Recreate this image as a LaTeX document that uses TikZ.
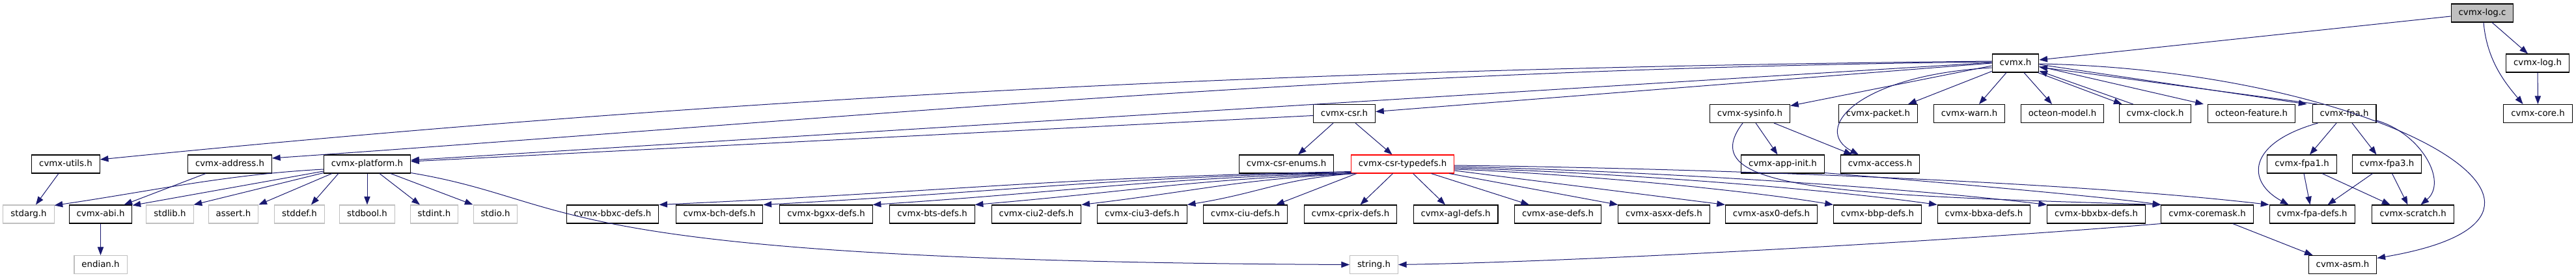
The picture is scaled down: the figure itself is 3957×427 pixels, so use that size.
\documentclass[tikz,border=0pt]{standalone}
\usepackage{fontspec}
\setmainfont{DejaVu Sans}
\usetikzlibrary{arrows.meta,calc}
\definecolor{edgeblue}{HTML}{191970}
\definecolor{sysgray}{HTML}{BFBFBF}
\begin{document}
\begin{tikzpicture}[x=0.75pt,y=-0.75pt,
  box/.style={draw=black, line width=0.8pt, inner xsep=8.6pt, inner ysep=0pt,
    minimum height=21pt, text height=7.4pt, text depth=2.1pt,
    font=\fontsize{10}{12}\selectfont, fill=white},
  sysbox/.style={box, draw=sysgray},
  rootbox/.style={box, fill=sysgray},
  truncbox/.style={box, draw=red},
  dep/.style={draw=edgeblue, line width=0.75pt, -{Triangle[length=9.5pt,width=7pt]}}
]
\useasboundingbox (0,0) rectangle (3957,427);
% row 0
\node[rootbox] (logc) at (3813,20) {cvmx-log.c};
% row 1
\node[box] (cvmx) at (3096,97) {cvmx.h};
\node[box] (logh) at (3898,97) {cvmx-log.h};
% row 2
\node[box] (csr) at (2065,174.5) {cvmx-csr.h};
\node[box] (sysinfo) at (2688,174.5) {cvmx-sysinfo.h};
\node[box] (packet) at (2885,174.5) {cvmx-packet.h};
\node[box] (warn) at (3025,174.5) {cvmx-warn.h};
\node[box] (model) at (3168,174.5) {octeon-model.h};
\node[box] (clock) at (3310.5,174.5) {cvmx-clock.h};
\node[box] (feature) at (3458.5,174.5) {octeon-feature.h};
\node[box] (fpa) at (3601,174.5) {cvmx-fpa.h};
\node[box] (core) at (3898.5,174.5) {cvmx-core.h};
% row 3
\node[box] (utils) at (101,252) {cvmx-utils.h};
\node[box] (address) at (353,252) {cvmx-address.h};
\node[box] (platform) at (564,252) {cvmx-platform.h};
\node[box] (enums) at (1976,252) {cvmx-csr-enums.h};
\node[truncbox] (typedefs) at (2154.5,252) {cvmx-csr-typedefs.h};
\node[box] (appinit) at (2738.5,252) {cvmx-app-init.h};
\node[box] (access) at (2888,252) {cvmx-access.h};
\node[box] (fpa1) at (3536,252) {cvmx-fpa1.h};
\node[box] (fpa3) at (3666.5,252) {cvmx-fpa3.h};
% row 4
\node[sysbox] (stdarg) at (44,329) {stdarg.h};
\node[box] (abi) at (154.5,329) {cvmx-abi.h};
\node[sysbox] (stdlib) at (261,329) {stdlib.h};
\node[sysbox] (assert) at (358.5,329) {assert.h};
\node[sysbox] (stddef) at (460,329) {stddef.h};
\node[sysbox] (stdbool) at (564,329) {stdbool.h};
\node[sysbox] (stdint) at (667,329) {stdint.h};
\node[sysbox] (stdio) at (761,329) {stdio.h};
\node[box] (bbxc) at (941,329) {cvmx-bbxc-defs.h};
\node[box] (bch) at (1105,329) {cvmx-bch-defs.h};
\node[box] (bgxx) at (1269,329) {cvmx-bgxx-defs.h};
\node[box] (bts) at (1432,329) {cvmx-bts-defs.h};
\node[box] (ciu2) at (1592,329) {cvmx-ciu2-defs.h};
\node[box] (ciu3) at (1754.5,329) {cvmx-ciu3-defs.h};
\node[box] (ciu) at (1913,329) {cvmx-ciu-defs.h};
\node[box] (cprix) at (2074.5,329) {cvmx-cprix-defs.h};
\node[box] (agl) at (2236,329) {cvmx-agl-defs.h};
\node[box] (ase) at (2393,329) {cvmx-ase-defs.h};
\node[box] (asxx) at (2556,329) {cvmx-asxx-defs.h};
\node[box] (asx0) at (2721,329) {cvmx-asx0-defs.h};
\node[box] (bbp) at (2884,329) {cvmx-bbp-defs.h};
\node[box] (bbxa) at (3047.5,329) {cvmx-bbxa-defs.h};
\node[box] (bbxbx) at (3220,329) {cvmx-bbxbx-defs.h};
\node[box] (coremask) at (3390.5,329) {cvmx-coremask.h};
\node[box] (fpadefs) at (3551.5,329) {cvmx-fpa-defs.h};
\node[box] (scratch) at (3706.5,329) {cvmx-scratch.h};
% row 5
\node[sysbox] (endian) at (154.5,406.5) {endian.h};
\node[sysbox] (string) at (2110.5,406.5) {string.h};
\node[box] (asm) at (3598.5,406.5) {cvmx-asm.h};

% cvmx-log.c
\draw[dep] ($(logc.west)+(0,5)$) -- ($(cvmx.east)+(0,-5)$);
\draw[dep] ($(logc.south)+(15,0)$) -- ($(logh.north)+(-15,0)$);
\draw[dep] ($(logc.south)+(2,0)$) .. controls +(5,60) and +(-25,-30) .. ($(core.north)+(-23,0)$);
\draw[dep] (logh) -- (core);

% cvmx.h
\draw[dep] ($(cvmx.west)+(0,-3)$) .. controls +(-1000,10) and +(1000,-100) .. ($(utils.east)+(0,-7)$);
\draw[dep] ($(cvmx.west)+(0,-2)$) .. controls +(-1000,12) and +(1000,-70) .. ($(address.east)+(0,-9)$);
\draw[dep] ($(cvmx.west)+(0,-1)$) -- ($(platform.east)+(0,-6)$);
\draw[dep] (cvmx.west) -- ($(csr.east)+(0,-3)$);
\draw[dep] ($(cvmx.west)+(0,4)$) -- ($(sysinfo.east)+(0,-12)$);
\draw[dep] ($(cvmx.west)+(0,7)$) .. controls +(-210,12) and +(-72,-38) .. ($(access.north)+(-33,0)$);
\draw[dep] ($(cvmx.south west)+(0,-2)$) -- ($(packet.north east)+(-15,0)$);
\draw[dep] ($(cvmx.south)+(-14,0)$) -- ($(warn.north)+(15,0)$);
\draw[dep] ($(cvmx.south)+(13,0)$) -- ($(model.north)+(-16,0)$);
\draw[dep] ($(cvmx.south east)+(-2,0)$) -- ($(clock.north west)+(5,0)$);
\draw[dep] ($(clock.north west)+(22,0)$) -- ($(cvmx.east)+(0,12)$);
\draw[dep] ($(cvmx.east)+(0,5)$) -- ($(feature.north west)+(-6,0)$);
\draw[dep] ($(cvmx.east)+(0,2)$) -- ($(fpa.north west)+(-8,0)$);
\draw[dep] ($(fpa.north west)+(8,0)$) -- ($(cvmx.east)+(0,6)$);
\draw[dep] ($(cvmx.east)+(0,1)$) .. controls +(519,10) and +(395,-67) .. ($(asm.east)+(0,-10)$);

% cvmx-csr.h
\draw[dep] ($(csr.west)+(0,3)$) -- ($(platform.east)+(0,-4)$);
\draw[dep] ($(csr.south)+(-17,0)$) -- ($(enums.north)+(18,0)$);
\draw[dep] ($(csr.south)+(17,0)$) -- ($(typedefs.north)+(-16,0)$);

% cvmx-platform.h
\draw[dep] ($(platform.west)+(0,8)$) .. controls +(-150,8) and +(150,-22) .. ($(stdarg.north east)+(0,1)$);
\draw[dep] ($(platform.west)+(0,11)$) -- ($(abi.north east)+(0,1)$);
\draw[dep] ($(platform.south west)+(0,-1)$) -- (stdlib.north east);
\draw[dep] ($(platform.south west)+(13,0)$) -- (assert.north east);
\draw[dep] ($(platform.south west)+(23,0)$) -- ($(stddef.north)+(18,0)$);
\draw[dep] (platform) -- (stdbool);
\draw[dep] ($(platform.south)+(19,0)$) -- ($(stdint.north)+(-22,0)$);
\draw[dep] ($(platform.south)+(36,0)$) -- (stdio.north west);
\draw[dep] ($(platform.south east)+(0,-1)$) .. controls +(269,45) and +(-1262,-6) .. (string.west);

% others on the left
\draw[dep] ($(address.south)+(-37,0)$) -- ($(abi.north)+(36,0)$);
\draw[dep] ($(utils.south)+(-11,0)$) -- ($(stdarg.north)+(11,0)$);
\draw[dep] (abi) -- (endian);

% cvmx-csr-typedefs.h, to the left
\draw[dep] ($(typedefs.south west)+(0,-3)$) .. controls +(-477,10) and +(477,-22) .. (bbxc.north east);
\draw[dep] ($(typedefs.south west)+(0,-2)$) .. controls +(-405,10) and +(405,-22) .. (bch.north east);
\draw[dep] ($(typedefs.south west)+(1,-1)$) .. controls +(-330,10) and +(330,-22) .. (bgxx.north east);
\draw[dep] ($(typedefs.south west)+(2,0)$) .. controls +(-258,10) and +(258,-22) .. (bts.north east);
\draw[dep] ($(typedefs.south west)+(4,0)$) .. controls +(-185,10) and +(185,-22) .. (ciu2.north east);
\draw[dep] ($(typedefs.south west)+(6,0)$) .. controls +(-112,8) and +(112,-18) .. (ciu3.north east);
\draw[dep] ($(typedefs.south west)+(9,0)$) -- ($(ciu.north east)+(-18,0)$);
% straight down
\draw[dep] ($(typedefs.south)+(-15,0)$) -- ($(cprix.north)+(15,0)$);
\draw[dep] ($(typedefs.south)+(16,0)$) -- ($(agl.north)+(-16,0)$);
\draw[dep] ($(typedefs.south)+(44,0)$) -- ($(ase.north west)+(23,0)$);
\draw[dep] ($(typedefs.south east)+(-8,0)$) -- (asxx.north west);
% to the right
\draw[dep] ($(typedefs.east)+(0,10)$) -- (asx0.north west);
\draw[dep] ($(typedefs.east)+(0,8)$) .. controls +(150,5) and +(-150,-25) .. (bbp.north west);
\draw[dep] ($(typedefs.east)+(0,6)$) .. controls +(200,5) and +(-200,-28) .. (bbxa.north west);
\draw[dep] ($(typedefs.east)+(0,4)$) .. controls +(250,5) and +(-250,-30) .. (bbxbx.north west);
\draw[dep] ($(typedefs.east)+(0,2)$) .. controls +(400,5) and +(-300,-35) .. (fpadefs.north west);

% cvmx-sysinfo.h, cvmx-app-init.h
\draw[dep] ($(sysinfo.south)+(9,0)$) -- ($(appinit.north)+(-8,0)$);
\draw[dep] ($(sysinfo.south)+(37,0)$) -- ($(access.north)+(-43,0)$);
\draw[dep] ($(sysinfo.south)+(-11,0)$) .. controls +(-77,101) and +(-510,-15) .. (coremask.north west);
\draw[dep] ($(appinit.south east)+(0,-1)$) .. controls +(100,8) and +(-100,-14) .. (coremask.north west);

% cvmx-coremask.h
\draw[dep] (coremask.south west) .. controls +(-300,25) and +(300,-5) .. (string.east);
\draw[dep] ($(coremask.south east)+(-32,0)$) -- ($(asm.north west)+(7,0)$);

% cvmx-fpa.h family
\draw[dep] ($(fpa.south)+(-12,0)$) -- ($(fpa1.north)+(12,0)$);
\draw[dep] ($(fpa.south)+(12,0)$) -- ($(fpa3.north)+(-16,0)$);
\draw[dep] ($(fpa.south east)+(0,-4)$) .. controls +(69,20) and +(42,-35) .. ($(scratch.north)+(12,0)$);
\draw[dep] ($(fpa.south west)+(9,0)$) .. controls +(-110,31) and +(-65,-35) .. ($(fpadefs.north)+(-36,0)$);
\draw[dep] ($(fpa1.south)+(3,0)$) -- ($(fpadefs.north)+(-3,0)$);
\draw[dep] ($(fpa1.south)+(31,0)$) -- ($(scratch.north)+(-35,0)$);
\draw[dep] ($(fpa3.south)+(-22,0)$) -- ($(fpadefs.north)+(24,0)$);
\draw[dep] ($(fpa3.south)+(8,0)$) -- ($(scratch.north)+(-8,0)$);
\end{tikzpicture}
\end{document}
